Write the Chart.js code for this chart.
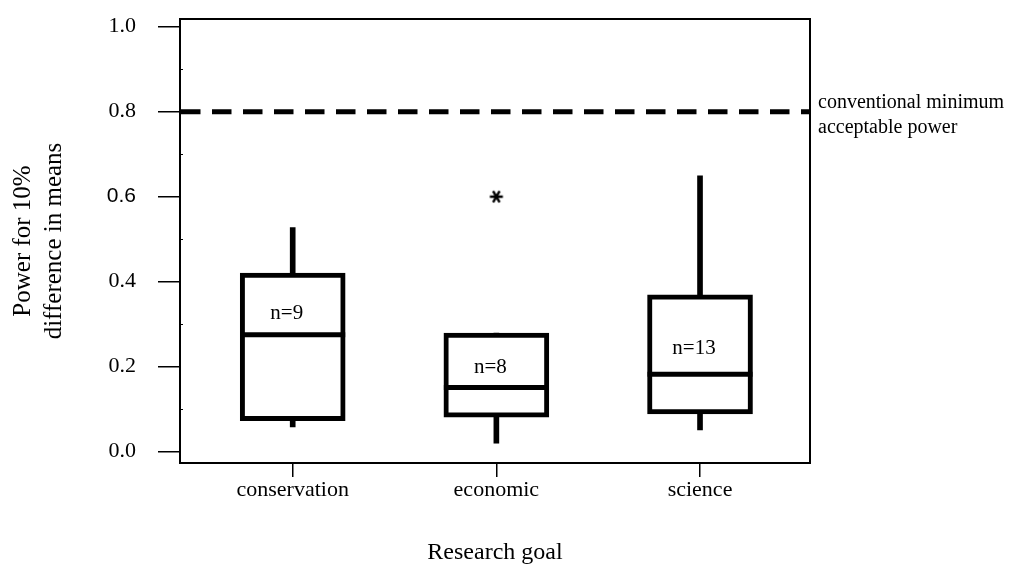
<!DOCTYPE html>
<html>
<head>
<meta charset="utf-8">
<script src="https://cdn.jsdelivr.net/npm/chart.js@4.4.1/dist/chart.umd.min.js"></script>
<style>
    html, body { margin: 0; padding: 0; background: #fff; }
    #wrap { width: 1012px; height: 567px; }
</style>
</head>
<body>
<div id="wrap"><canvas id="boxChart" width="1012" height="567"></canvas></div>
<script>
    // ============================================
    // Datos
    // ============================================
    const categories = ['conservation', 'economic', 'science'];
    const sampleSizes = [9, 8, 13];
    const whiskerLow = [0.058, 0.020, 0.051];
    const q1 = [0.073, 0.081, 0.089];
    const median = [0.275, 0.151, 0.182];
    const q3 = [0.420, 0.279, 0.369];
    const whiskerHigh = [0.527, 0.279, 0.649];
    const outliers = [{ x: 1, y: 0.600 }];
    const yTicks = [0.0, 0.2, 0.4, 0.6, 0.8, 1.0];
    const yMinorTicks = [0.1, 0.3, 0.5, 0.7, 0.9];
    const refValue = 0.8;
    const refLabel = ['conventional minimum', 'acceptable power'];

    const SERIF = "'Liberation Serif', 'Times New Roman', serif";
    const SANS = "'Liberation Sans', Arial, sans-serif";

    // asterisco de 6 brazos para el valor atipico
    function makeAsterisk() {
        const c = document.createElement('canvas');
        c.width = 16; c.height = 16;
        const g = c.getContext('2d');
        g.strokeStyle = '#000';
        g.lineWidth = 2.4;
        g.beginPath();
        for (let k = 0; k < 3; k++) {
            const a = k * Math.PI / 3;
            g.moveTo(8 - 6.5 * Math.cos(a), 8 - 6.5 * Math.sin(a));
            g.lineTo(8 + 6.5 * Math.cos(a), 8 + 6.5 * Math.sin(a));
        }
        g.stroke();
        return c;
    }

    // marco, linea de referencia, medianas y etiquetas n=
    const boxExtras = {
        id: 'boxExtras',
        beforeDatasetsDraw(chart) {
            const { ctx, chartArea: a, scales: { y } } = chart;
            ctx.save();
            // linea discontinua 0.8
            const yr = y.getPixelForValue(refValue);
            ctx.strokeStyle = '#000';
            ctx.lineWidth = 5;
            ctx.setLineDash([19.5, 11.5]);
            ctx.beginPath();
            ctx.moveTo(a.left + 1, yr);
            ctx.lineTo(a.right, yr);
            ctx.stroke();
            ctx.restore();
        },
        afterDatasetsDraw(chart) {
            const { ctx, chartArea: a, scales: { x, y } } = chart;
            ctx.save();
            // medianas
            const boxMeta = chart.getDatasetMeta(1);
            ctx.strokeStyle = '#000';
            ctx.lineWidth = 5;
            boxMeta.data.forEach((el, i) => {
                const { x: cx, width } = el.getProps(['x', 'width'], true);
                const ym = y.getPixelForValue(median[i]);
                ctx.beginPath();
                ctx.moveTo(cx - width / 2, ym);
                ctx.lineTo(cx + width / 2, ym);
                ctx.stroke();
            });
            // n=
            ctx.fillStyle = '#000';
            ctx.font = '21px ' + SERIF;
            ctx.textAlign = 'center';
            ctx.textBaseline = 'middle';
            const nLabelY = [0.326, 0.199, 0.242];
            sampleSizes.forEach((n, i) => {
                ctx.fillText('n=' + n, x.getPixelForValue(i) - 6, y.getPixelForValue(nLabelY[i]));
            });
            // marco
            ctx.lineWidth = 2;
            ctx.strokeRect(a.left, a.top, a.right - a.left, a.bottom - a.top);
            // marcas menores
            ctx.lineWidth = 1;
            yMinorTicks.forEach(v => {
                const yp = Math.round(y.getPixelForValue(v)) + 0.5;
                ctx.beginPath();
                ctx.moveTo(a.left, yp);
                ctx.lineTo(a.left + 3, yp);
                ctx.stroke();
            });
            // texto de la linea de referencia
            const yr = y.getPixelForValue(refValue);
            ctx.font = '20px ' + SERIF;
            ctx.textAlign = 'left';
            ctx.textBaseline = 'alphabetic';
            ctx.fillText(refLabel[0], a.right + 8, yr - 4);
            ctx.fillText(refLabel[1], a.right + 8, yr + 21);
            ctx.restore();
        }
    };

    const ctx = document.getElementById('boxChart').getContext('2d');
    new Chart(ctx, {
        type: 'bar',
        data: {
            datasets: [
                {
                    label: 'whiskers',
                    data: categories.map((c, i) => ({ x: i, y: [whiskerLow[i], whiskerHigh[i]] })),
                    backgroundColor: '#000',
                    borderWidth: 0,
                    barThickness: 5,
                    grouped: false,
                    order: 2
                },
                {
                    label: 'boxes',
                    data: categories.map((c, i) => ({ x: i, y: [q1[i], q3[i]] })),
                    backgroundColor: '#fff',
                    borderColor: '#000',
                    borderWidth: 5,
                    borderSkipped: false,
                    barThickness: 105,
                    grouped: false,
                    order: 1
                },
                {
                    type: 'line',
                    label: 'outliers',
                    data: outliers,
                    showLine: false,
                    pointStyle: makeAsterisk(),
                    order: 0
                }
            ]
        },
        options: {
            responsive: false,
            animation: false,
            layout: { padding: { left: 0, right: 202, top: 19, bottom: 0 } },
            plugins: {
                legend: { display: false },
                tooltip: { enabled: false }
            },
            scales: {
                x: {
                    type: 'linear',
                    min: -0.5534,
                    max: 2.540,
                    offset: false,
                    afterBuildTicks: scale => { scale.ticks = categories.map((c, i) => ({ value: i })); },
                    afterFit: scale => {
                        scale.height = 104;
                        scale.paddingLeft = 0;
                        scale.paddingRight = 0;
                    },
                    border: { display: false },
                    grid: {
                        offset: false,
                        drawOnChartArea: false,
                        drawTicks: true,
                        tickLength: 14,
                        color: '#000',
                        lineWidth: 1.5
                    },
                    ticks: {
                        padding: 0,
                        color: '#000',
                        font: { family: SERIF, size: 22 },
                        callback: v => categories[v]
                    },
                    title: {
                        display: true,
                        text: 'Research goal',
                        color: '#000',
                        font: { family: SERIF, size: 24 },
                        padding: { top: 0, bottom: 0 }
                    }
                },
                y: {
                    min: -0.0266,
                    max: 1.018,
                    afterBuildTicks: scale => { scale.ticks = yTicks.map(v => ({ value: v })); },
                    afterFit: scale => {
                        scale.width = 180;
                        scale.paddingTop = 0;
                        scale.paddingBottom = 0;
                    },
                    border: { display: false },
                    grid: {
                        drawOnChartArea: false,
                        drawTicks: true,
                        tickLength: 22,
                        color: '#000',
                        lineWidth: 1.5
                    },
                    ticks: {
                        padding: 22,
                        color: '#000',
                        font: c => (c.tick && c.tick.value === 0.6)
                            ? { family: SANS, size: 21 }
                            : { family: SERIF, size: 22 },
                        callback: v => v.toFixed(1)
                    },
                    title: {
                        display: true,
                        text: ['Power for 10%', 'difference in means'],
                        color: '#000',
                        font: { family: SERIF, size: 25, lineHeight: 1.24 },
                        padding: { top: 8, bottom: 0 }
                    }
                }
            }
        },
        plugins: [boxExtras]
    });
</script>
</body>
</html>
